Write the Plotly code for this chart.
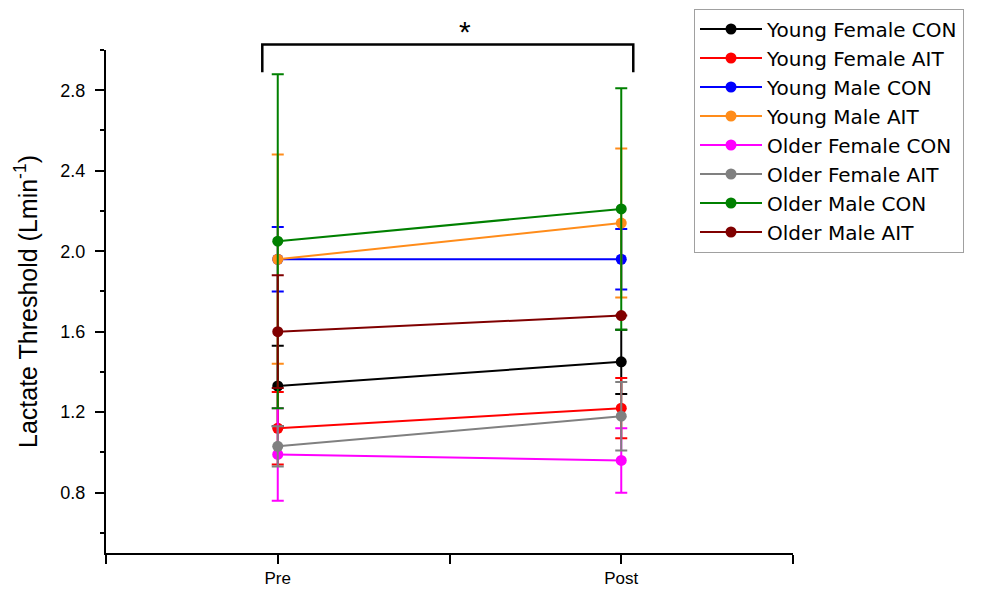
import plotly.graph_objects as go

# ---- data ----
timepoints = ["Pre", "Post"]
groups = ["Young Female CON", "Young Female AIT", "Young Male CON", "Young Male AIT",
          "Older Female CON", "Older Female AIT", "Older Male CON", "Older Male AIT"]
colors = ["#000000", "#ff0000", "#0000ff", "#ff8c1a",
          "#ff00ff", "#808080", "#008000", "#800000"]

young_female_con = [1.33, 1.45]
young_female_ait = [1.12, 1.22]
young_male_con = [1.96, 1.96]
young_male_ait = [1.96, 2.14]
older_female_con = [0.99, 0.96]
older_female_ait = [1.03, 1.18]
older_male_con = [2.05, 2.21]
older_male_ait = [1.60, 1.68]

young_female_con_sd = [0.20, 0.16]
young_female_ait_sd = [0.18, 0.15]
young_male_con_sd = [0.16, 0.15]
young_male_ait_sd = [0.52, 0.37]
older_female_con_sd = [0.23, 0.16]
older_female_ait_sd = [0.10, 0.17]
older_male_con_sd = [0.83, 0.60]
older_male_ait_sd = [0.28, 0.0]

y_ticks = [0.8, 1.2, 1.6, 2.0, 2.4, 2.8]

means = [young_female_con, young_female_ait, young_male_con, young_male_ait,
         older_female_con, older_female_ait, older_male_con, older_male_ait]
sds = [young_female_con_sd, young_female_ait_sd, young_male_con_sd, young_male_ait_sd,
       older_female_con_sd, older_female_ait_sd, older_male_con_sd, older_male_ait_sd]

xpos = [i + 1 for i in range(len(timepoints))]

FONT = "Liberation Sans, Arial, sans-serif"
LEGFONT = "DejaVu Sans, Liberation Sans, sans-serif"

# the page body adds an 8px offset, so the figure is sized to fit the window
W, H = 990, 581

fig = go.Figure()
for name, col, m, s in zip(groups, colors, means, sds):
    fig.add_trace(go.Scatter(
        x=xpos, y=m, name=name, mode="lines+markers",
        line=dict(color=col, width=2),
        marker=dict(color=col, size=11, symbol="circle"),
        error_y=dict(type="data", array=s, visible=True, color=col,
                     thickness=2, width=6),
        cliponaxis=False,
    ))

# significance bracket
fig.add_shape(type="path", xref="x", yref="paper",
              path="M 0.955,0.956 L 0.955,1.011 L 2.035,1.011 L 2.035,0.956",
              line=dict(color="black", width=2.5))
fig.add_annotation(x=1.545, y=1.036, xref="x", yref="paper", text="*",
                   showarrow=False, font=dict(family=FONT, size=30, color="black"),
                   yanchor="middle")

fig.update_layout(
    width=W, height=H,
    margin=dict(l=98, r=205, t=42, b=36, autoexpand=False),
    paper_bgcolor="white", plot_bgcolor="white",
    font=dict(family=FONT, color="black", size=18),
    showlegend=True,
    legend=dict(x=686 / W, y=1 - 0.5 / H, xref="container", yref="container",
                xanchor="left", yanchor="top",
                bordercolor="#a0a0a0", borderwidth=1, bgcolor="white",
                font=dict(family=LEGFONT, size=20, color="black"),
                tracegroupgap=0, itemwidth=62),
)
fig.update_xaxes(
    range=[0.5, 2.5], tickvals=xpos, ticktext=timepoints,
    showline=True, linecolor="black", linewidth=2,
    ticks="outside", ticklen=9, tickwidth=2, tickcolor="black",
    minor=dict(tickvals=[0.5, 1.5, 2.5], ticks="outside",
               ticklen=9, tickwidth=2, tickcolor="black"),
    showgrid=False, zeroline=False, automargin=False,
    tickfont=dict(family=FONT, size=17, color="black"),
)
fig.update_yaxes(
    range=[0.5, 3.0], tickvals=y_ticks,
    ticktext=[f"{v:.1f}" for v in y_ticks],
    showline=True, linecolor="black", linewidth=2,
    ticks="outside", ticklen=9, tickwidth=2, tickcolor="black",
    ticklabelstandoff=6,
    minor=dict(tickvals=[0.6, 1.0, 1.4, 1.8, 2.2, 2.6, 3.0], ticks="outside",
               ticklen=4, tickwidth=2, tickcolor="black"),
    showgrid=False, zeroline=False, automargin=False,
    tickfont=dict(family=FONT, size=18, color="black"),
    title=dict(text="Lactate Threshold (Lmin<sup>-1</sup>)",
               font=dict(family=FONT, size=25, color="black"), standoff=16),
)

fig.write_html("out.html")
